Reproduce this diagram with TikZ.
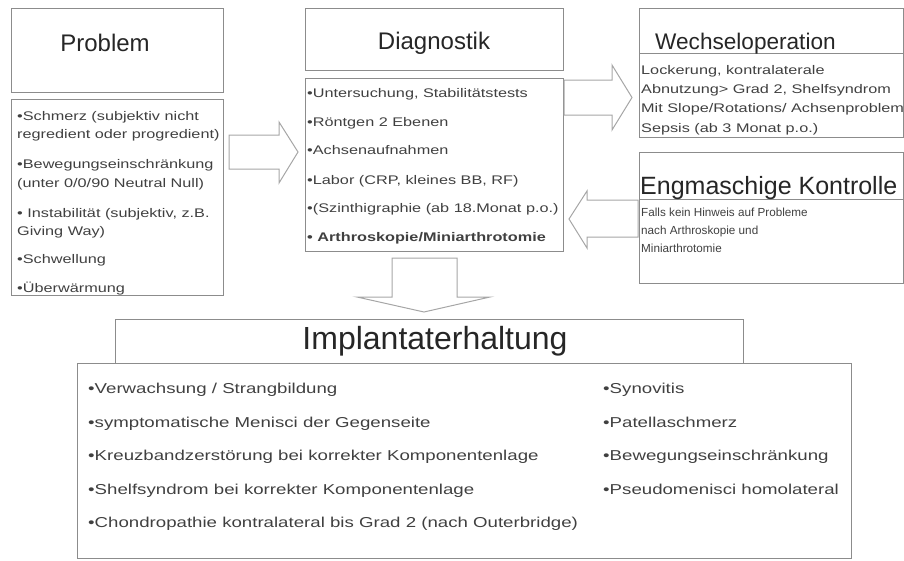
\documentclass[tikz,border=0pt]{standalone}
\usepackage{fontspec}
\setmainfont{Liberation Sans}
\newfontfamily\widefont[FakeStretch=1.3]{Liberation Sans}

\tikzset{
    box/.style={draw=black!45, line width=1pt},
    blockarrow/.style={draw=black!35, line width=1pt, fill=white, line join=miter},
    head/.style={inner sep=0pt, text depth=0pt, text=black!85},
    item/.style={anchor=west, inner sep=0pt, text height=8.95pt, text depth=0pt, text=black!75,
        font=\widefont\fontsize{12.5}{15}\selectfont},
}

\begin{document}
\begin{tikzpicture}[x=1pt, y=-1pt]
    \useasboundingbox (0,0) rectangle (904,560);

    % Problem
    \draw[box] (11,8) rectangle (223,92);
    \node[head, text height=17.2pt, font=\fontsize{24}{28}\selectfont] (problem) at (105,42.5) {Problem};
    \draw[box] (11,99) rectangle (223,295);
    \foreach \y/\txt [count=\i] in {116/{•Schmerz (subjektiv nicht}, 134/{regredient oder progredient)},
        164/{•Bewegungseinschränkung}, 183/{(unter 0/0/90 Neutral Null)},
        213/{• Instabilität (subjektiv, z.B.}, 231/{Giving Way)},
        259/{•Schwellung}, 288/{•Überwärmung}}
        \node[item] (prob-\i) at (17,\y) {\txt};

    % arrow problem -> diagnostik
    \draw[blockarrow] (229,135) -- (279,135) -- (279,122) -- (298,152) -- (279,183) -- (279,169) -- (229,169) -- cycle;

    % Diagnostik
    \draw[box] (305,8) rectangle (563,70);
    \node[head, text height=17.2pt, font=\fontsize{24}{28}\selectfont] (diag) at (434,40.5) {Diagnostik};
    \draw[box] (305,78) rectangle (563,251);
    \foreach \y/\txt [count=\i] in {93/{•Untersuchung, Stabilitätstests}, 122/{•Röntgen 2 Ebenen},
        150/{•Achsenaufnahmen}, 180/{•Labor (CRP, kleines BB, RF)},
        208/{•(Szinthigraphie (ab 18.Monat p.o.)}, 237/{\bfseries • Arthroskopie/Miniarthrotomie}}
        \node[item] (diag-\i) at (307,\y) {\txt};

    % arrow diagnostik -> wechseloperation
    \draw[blockarrow] (564,80) -- (612,80) -- (612,65) -- (632,97.5) -- (612,130) -- (612,115) -- (564,115) -- cycle;

    % Wechseloperation
    \draw[box] (639,8) rectangle (903,137);
    \draw[box] (639,53) -- (903,53);
    \node[head, anchor=west, text height=16.2pt, font=\fontsize{22.6}{26}\selectfont] (wechsel) at (655,41.5) {Wechseloperation};
    \foreach \y/\txt [count=\i] in {70/{Lockerung, kontralaterale}, 89/{Abnutzung> Grad 2, Shelfsyndrom},
        108/{Mit Slope/Rotations/ Achsenproblem}, 128/{Sepsis (ab 3 Monat p.o.)}}
        \node[item] (wechsel-\i) at (641,\y) {\txt};

    % Engmaschige Kontrolle
    \draw[box] (639,152) rectangle (903,283);
    \draw[box] (639,199) -- (903,199);
    \node[head, anchor=west, text height=17.9pt, font=\fontsize{25}{28}\selectfont] (kontrolle) at (640,186) {Engmaschige Kontrolle};
    \foreach \y/\txt [count=\i] in {212/{Falls kein Hinweis auf Probleme}, 230/{nach Arthroskopie und},
        248/{Miniarthrotomie}}
        \node[item, text height=8.4pt, font=\fontsize{11.7}{14}\selectfont] (kontrolle-\i) at (641,\y) {\txt};

    % arrow kontrolle -> diagnostik
    \draw[blockarrow] (638,200) -- (587,200) -- (587,191) -- (569,219) -- (587,248) -- (587,237) -- (638,237) -- cycle;

    % arrow diagnostik -> implantaterhaltung
    \draw[blockarrow] (392,258) -- (457,258) -- (457,297) -- (490,297) -- (424,312) -- (357,297) -- (392,297) -- cycle;

    % Implantaterhaltung
    \draw[box] (115,319) rectangle (743,363);
    \node[head, text height=22.9pt, font=\fontsize{32}{36}\selectfont] (implantat) at (435,338.5) {Implantaterhaltung};
    \draw[box] (77,363) rectangle (851,558);
    \foreach \y/\txt [count=\i] in {388/{•Verwachsung / Strangbildung}, 422/{•symptomatische Menisci der Gegenseite},
        455/{•Kreuzbandzerstörung bei korrekter Komponentenlage}, 489/{•Shelfsyndrom bei korrekter Komponentenlage},
        522/{•Chondropathie kontralateral bis Grad 2 (nach Outerbridge)}}
        \node[item, text height=10.3pt, font=\widefont\fontsize{14.35}{17}\selectfont] (implL-\i) at (88,\y) {\txt};
    \foreach \y/\txt [count=\i] in {388/{•Synovitis}, 422/{•Patellaschmerz},
        455/{•Bewegungseinschränkung}, 489/{•Pseudomenisci homolateral}}
        \node[item, text height=10.3pt, font=\widefont\fontsize{14.35}{17}\selectfont] (implR-\i) at (603,\y) {\txt};

\end{tikzpicture}
\end{document}
